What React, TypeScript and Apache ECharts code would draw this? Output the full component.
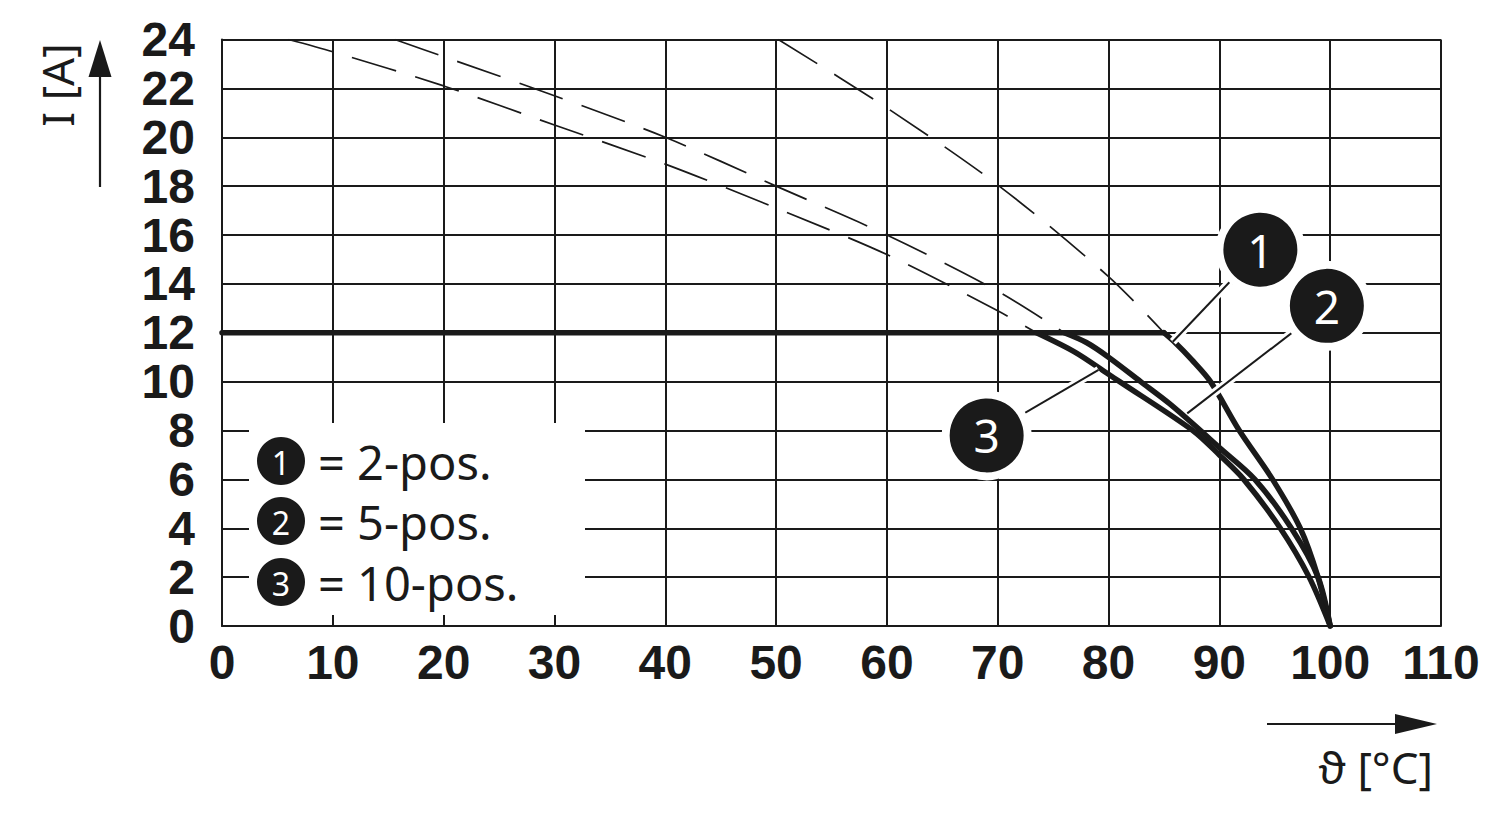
import React, { useEffect, useRef } from "react";
import * as echarts from "echarts";

// Axis ranges
const xMin = 0, xMax = 110, xStep = 10;
const yMin = 0, yMax = 24, yStep = 2;

// Rated current plateau (shared by all curves)
const plateau: number[][] = [[0, 12], [85, 12]];

// Solid derating curves
const curve1: number[][] = [[85, 12], [86, 11.6], [87.5, 10.9], [89.2, 10], [91.8, 8], [94.8, 6], [97.3, 4], [98.9, 2], [100, 0]];
const curve2: number[][] = [[76, 12], [78, 11.6], [80, 11], [82.9, 10], [85.5, 9.1], [88.3, 8], [90, 7.3], [93.2, 6], [96.5, 4], [98.9, 2], [100, 0]];
const curve3: number[][] = [[73.5, 12], [77, 11.2], [80, 10.3], [81, 10], [87.6, 8], [90, 7.0], [92.2, 6], [95.5, 4], [98.1, 2], [100, 0]];

// Dashed base curves
const dashed1: number[][] = [[50.2, 24], [60, 21.2], [70, 18.05], [80, 14.3], [85, 12]];
const dashed2: number[][] = [[15.6, 24], [20, 23.3], [30, 21.7], [40, 20], [50, 18], [60, 16], [70, 13.7], [76, 12]];
const dashed3: number[][] = [[6, 24], [10, 23.5], [20, 22.1], [30, 20.5], [40, 18.9], [50, 17.1], [60, 15.2], [70, 12.9], [73.5, 12]];

// Curve labels (numbered circles) and leader lines
const labelNames = ["1", "2", "3"];
const labelPos: number[][] = [[93.7, 15.4], [99.7, 13.1], [69.0, 7.8]];
const leaderEnds: number[][] = [[85.8, 11.63], [87.1, 8.7], [79.1, 10.48]];

// Legend
const legendNums = ["1", "2", "3"];
const legendLabels = ["= 2-pos.", "= 5-pos.", "= 10-pos."];

const INK = "#1a1a1a";

export default function App() {
  const ref = useRef<HTMLDivElement>(null);
  useEffect(() => {
    if (!ref.current) return;
    const chart = echarts.init(ref.current, undefined, { renderer: "svg" });

    const axisLabelStyle = {
      fontSize: 48,
      fontWeight: "bold" as const,
      fontFamily: "Liberation Sans, Arial, sans-serif",
      color: INK,
    };

    const solid = (data: number[][]) => ({
      type: "line",
      data,
      symbol: "none",
      smooth: 0.3,
      silent: true,
      z: 3,
      lineStyle: { color: INK, width: 5.5, cap: "round", join: "round" },
    });
    const dashed = (data: number[][]) => ({
      type: "line",
      data,
      symbol: "none",
      smooth: 0.3,
      silent: true,
      z: 2,
      lineStyle: { color: INK, width: 1.7, type: [46, 20] },
    });

    const leaderSeries: any[] = [];
    leaderEnds.forEach((end, i) => {
      leaderSeries.push({
        type: "line",
        data: [end, labelPos[i]],
        symbol: "none",
        silent: true,
        z: 4,
        lineStyle: { color: "#ffffff", width: 8 },
      });
    });
    leaderEnds.forEach((end, i) => {
      leaderSeries.push({
        type: "line",
        data: [end, labelPos[i]],
        symbol: "none",
        silent: true,
        z: 5,
        lineStyle: { color: INK, width: 2 },
      });
    });

    const legendY = [461, 521, 582];
    const legendGraphics: any[] = [
      {
        type: "rect",
        shape: { x: 249, y: 423, width: 336, height: 192 },
        style: { fill: "#ffffff" },
        z: 100,
      },
    ];
    legendNums.forEach((n, i) => {
      legendGraphics.push({
        type: "circle",
        shape: { cx: 281, cy: legendY[i], r: 24 },
        style: { fill: INK },
        z: 101,
      });
      legendGraphics.push({
        type: "text",
        x: 281,
        y: legendY[i] + 1,
        style: {
          text: n,
          fill: "#ffffff",
          font: "32px 'Noto Sans', sans-serif",
          align: "center",
          verticalAlign: "middle",
        },
        z: 102,
      });
      legendGraphics.push({
        type: "text",
        x: 318,
        y: legendY[i] + 1,
        style: {
          text: legendLabels[i],
          fill: INK,
          font: "47px 'Noto Sans', sans-serif",
          align: "left",
          verticalAlign: "middle",
        },
        z: 102,
      });
    });

    const option: any = {
      animation: false,
      backgroundColor: "#ffffff",
      grid: { left: 222, top: 39.5, right: 59, bottom: 195, show: false },
      xAxis: {
        type: "value",
        min: xMin,
        max: xMax,
        interval: xStep,
        axisLine: { show: true, lineStyle: { color: INK, width: 2 } },
        axisTick: { show: false },
        splitLine: { show: true, lineStyle: { color: INK, width: 2 } },
        axisLabel: { ...axisLabelStyle, margin: 12, lineHeight: 48 },
      },
      yAxis: {
        type: "value",
        min: yMin,
        max: yMax,
        interval: yStep,
        axisLine: { show: true, lineStyle: { color: INK, width: 2 } },
        axisTick: { show: false },
        splitLine: { show: true, lineStyle: { color: INK, width: 2 } },
        axisLabel: { ...axisLabelStyle, margin: 27 },
      },
      series: [
        dashed(dashed1),
        dashed(dashed2),
        dashed(dashed3),
        {
          type: "line",
          data: plateau,
          symbol: "none",
          silent: true,
          z: 3,
          lineStyle: { color: INK, width: 5.5, cap: "round" },
        },
        solid(curve1),
        solid(curve2),
        solid(curve3),
        ...leaderSeries,
        {
          type: "scatter",
          data: labelPos.map((p, i) => ({ value: p, name: labelNames[i] })),
          symbol: "circle",
          symbolSize: 82,
          silent: true,
          z: 6,
          itemStyle: { color: INK, borderColor: "#ffffff", borderWidth: 8, opacity: 1 },
          label: {
            show: true,
            position: "inside",
            formatter: (p: any) => p.name,
            color: "#ffffff",
            fontSize: 46,
            fontFamily: "Noto Sans, sans-serif",
          },
        },
      ],
      graphic: [
        ...legendGraphics,
        {
          type: "text",
          x: 57,
          y: 85,
          rotation: Math.PI / 2,
          style: {
            text: "I [A]",
            fill: INK,
            font: "44px 'Noto Sans', sans-serif",
            align: "center",
            verticalAlign: "middle",
          },
          z: 50,
        },
        {
          type: "line",
          shape: { x1: 100, y1: 187, x2: 100, y2: 72 },
          style: { stroke: INK, lineWidth: 2.2 },
          z: 50,
        },
        {
          type: "polygon",
          shape: { points: [[88.5, 77], [111.5, 77], [100, 40]] },
          style: { fill: INK },
          z: 50,
        },
        {
          type: "line",
          shape: { x1: 1267, y1: 724, x2: 1400, y2: 724 },
          style: { stroke: INK, lineWidth: 2.2 },
          z: 50,
        },
        {
          type: "polygon",
          shape: { points: [[1395, 714], [1395, 734], [1437, 724]] },
          style: { fill: INK },
          z: 50,
        },
        {
          type: "text",
          x: 1433,
          y: 767,
          style: {
            text: "ϑ [°C]",
            fill: INK,
            font: "44px 'Noto Sans', 'DejaVu Sans', sans-serif",
            align: "right",
            verticalAlign: "middle",
          },
          z: 50,
        },
      ],
    };

    chart.setOption(option);
    return () => {
      chart.dispose();
    };
  }, []);

  return (
    <div
      ref={ref}
      style={{ position: "fixed", left: 0, top: 0, width: 1500, height: 821, background: "#fff" }}
    />
  );
}
